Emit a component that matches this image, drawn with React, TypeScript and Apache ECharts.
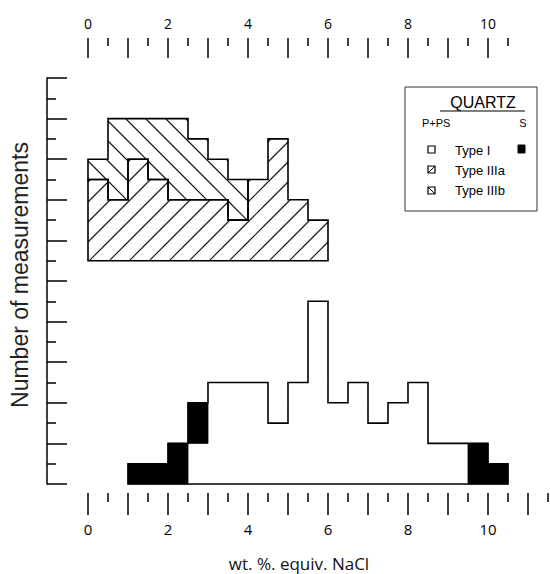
import React, { useEffect, useRef } from 'react';
import * as echarts from 'echarts';

const BIN_WIDTH = 0.5;

// Bottom histogram: Type I fluid inclusions
const typeIStarts = [1.0, 1.5, 2.0, 2.5, 3.0, 3.5, 4.0, 4.5, 5.0, 5.5, 6.0, 6.5, 7.0, 7.5, 8.0, 8.5, 9.0, 9.5, 10.0];
const typeIPPS = [0, 0, 0, 2, 5, 5, 5, 3, 5, 9, 4, 5, 3, 4, 5, 2, 2, 0, 0];
const typeIS = [1, 1, 2, 2, 0, 0, 0, 0, 0, 0, 0, 0, 0, 0, 0, 0, 0, 2, 1];

// Top histogram: Type IIIa and IIIb (drawn offset above the Type I histogram)
const TOP_BASE = 11;
const typeIIIStarts = [0, 0.5, 1.0, 1.5, 2.0, 2.5, 3.0, 3.5, 4.0, 4.5, 5.0, 5.5];
const typeIIIa = [4, 3, 5, 4, 3, 3, 3, 2, 4, 6, 3, 2];
const typeIIIb = [1, 4, 2, 3, 4, 3, 2, 2, 0, 0, 0, 0];

// Axis ticks
const bottomMajorTicks = [0, 1, 2, 3, 4, 5, 6, 7, 8, 9, 10, 11];
const bottomMinorTicks = [0.5, 1.5, 2.5, 3.5, 4.5, 5.5, 6.5, 7.5, 8.5, 9.5, 10.5, 11.5];
const topMajorTicks = [0, 1, 2, 3, 4, 5, 6, 7, 8, 9, 10];
const topMinorTicks = [0.5, 1.5, 2.5, 3.5, 4.5, 5.5, 6.5, 7.5, 8.5, 9.5, 10.5];
const xTickLabels = [0, 2, 4, 6, 8, 10];

const HATCH = 20;
const SLASH_PHASE = 10;
const BACK_PHASE = 13;

function fillSeries(name: string, starts: number[], bottoms: number[], tops: number[], mode: 'solid' | 'slash' | 'back') {
  const data = starts.map((s, i) => [s, s + BIN_WIDTH, bottoms[i], tops[i]]);
  return {
    type: 'custom',
    name,
    xAxisIndex: 0,
    yAxisIndex: 0,
    z: 2,
    silent: true,
    data,
    encode: { x: [0, 1], y: [2, 3] },
    renderItem: (params: any, api: any) => {
      const x0 = api.value(0), x1 = api.value(1), y0 = api.value(2), y1 = api.value(3);
      if (!(y1 > y0)) return null;
      const a = api.coord([x0, y1]);
      const b = api.coord([x1, y0]);
      const L = a[0], T = a[1], R = b[0], B = b[1];
      if (mode === 'solid') {
        return {
          type: 'rect',
          shape: { x: L, y: T, width: R - L, height: B - T },
          style: { fill: '#000', stroke: '#000', lineWidth: 0.8 },
        };
      }
      const children: any[] = [];
      const st = { stroke: '#111', lineWidth: 1.1 };
      if (mode === 'slash') {
        const start = Math.ceil((L + T - SLASH_PHASE) / HATCH) * HATCH + SLASH_PHASE;
        for (let c = start; c <= R + B; c += HATCH) {
          const xa = Math.max(L, c - B), xb = Math.min(R, c - T);
          if (xb - xa > 0.5) children.push({ type: 'line', shape: { x1: xa, y1: c - xa, x2: xb, y2: c - xb }, style: st });
        }
      } else {
        const start = Math.ceil((T - R - BACK_PHASE) / HATCH) * HATCH + BACK_PHASE;
        for (let c = start; c <= B - L; c += HATCH) {
          const xa = Math.max(L, T - c), xb = Math.min(R, B - c);
          if (xb - xa > 0.5) children.push({ type: 'line', shape: { x1: xa, y1: xa + c, x2: xb, y2: xb + c }, style: st });
        }
      }
      return { type: 'group', children };
    },
  };
}

function outlineSeries(starts: number[], bottoms: number[], tops: number[]) {
  const pts: number[][] = [];
  starts.forEach((s, i) => {
    pts.push([s, tops[i]]);
    pts.push([s + BIN_WIDTH, tops[i]]);
  });
  for (let i = starts.length - 1; i >= 0; i--) {
    pts.push([starts[i] + BIN_WIDTH, bottoms[i]]);
    pts.push([starts[i], bottoms[i]]);
  }
  return {
    type: 'custom',
    xAxisIndex: 0,
    yAxisIndex: 0,
    z: 5,
    silent: true,
    data: [[starts[0], bottoms[0]]],
    renderItem: (params: any, api: any) => ({
      type: 'polygon',
      shape: { points: pts.map((p) => api.coord(p)) },
      style: { fill: 'none', stroke: '#000', lineWidth: 1.6, lineJoin: 'miter' },
    }),
  };
}

function buildOption() {
  const zeros1 = typeIStarts.map(() => 0);
  const totalI = typeIPPS.map((v, i) => v + typeIS[i]);
  const sBottoms = typeIPPS.slice();
  const sTops = totalI;

  const aBottoms = typeIIIStarts.map(() => TOP_BASE);
  const aTops = typeIIIa.map((v) => TOP_BASE + v);
  const bBottoms = aTops;
  const bTops = typeIIIa.map((v, i) => TOP_BASE + v + typeIIIb[i]);

  const bIdx = typeIIIb.map((v, i) => (v > 0 ? i : -1)).filter((i) => i >= 0);

  const tickStyle = { color: '#000', width: 1.5 };
  const labelFont = 'Open Sans, Noto Sans, sans-serif';
  const legendFont = 'Liberation Sans, Arial, sans-serif';

  const baseX = {
    type: 'value',
    min: 0,
    max: 11.5,
    gridIndex: 0,
    axisLine: { show: false, onZero: false },
    splitLine: { show: false },
  };

  return {
    animation: false,
    backgroundColor: '#fff',
    grid: { left: 88, right: 2, top: 78, bottom: 90, containLabel: false },
    xAxis: [
      {
        ...baseX,
        position: 'bottom',
        offset: 9,
        axisTick: { show: true, inside: false, length: 22, customValues: bottomMajorTicks, lineStyle: tickStyle },
        axisLabel: { show: true, customValues: xTickLabels, margin: 28, color: '#000', fontSize: 15, fontFamily: labelFont },
      },
      {
        ...baseX,
        position: 'bottom',
        offset: 9,
        axisTick: { show: true, inside: false, length: 9, customValues: bottomMinorTicks, lineStyle: tickStyle },
        axisLabel: { show: false },
      },
      {
        ...baseX,
        position: 'top',
        offset: 40,
        axisTick: { show: true, inside: true, length: 20, customValues: topMajorTicks, lineStyle: tickStyle },
        axisLabel: { show: true, customValues: xTickLabels, margin: 8, color: '#000', fontSize: 14, fontFamily: labelFont },
      },
      {
        ...baseX,
        position: 'top',
        offset: 40,
        axisTick: { show: true, inside: true, length: 8, customValues: topMinorTicks, lineStyle: tickStyle },
        axisLabel: { show: false },
      },
    ],
    yAxis: {
      type: 'value',
      min: 0,
      max: 20,
      interval: 2,
      position: 'left',
      offset: 41,
      axisLine: { show: true, onZero: false, lineStyle: tickStyle },
      axisTick: { show: true, inside: true, length: 20, lineStyle: tickStyle },
      minorTick: { show: true, splitNumber: 2, length: 9, lineStyle: tickStyle },
      axisLabel: { show: false },
      splitLine: { show: false },
      minorSplitLine: { show: false },
    },
    series: [
      fillSeries('Type I S', typeIStarts, sBottoms, sTops, 'solid'),
      fillSeries('Type IIIa', typeIIIStarts, aBottoms, aTops, 'slash'),
      fillSeries('Type IIIb', typeIIIStarts, bBottoms, bTops, 'back'),
      outlineSeries(typeIStarts, zeros1, totalI),
      outlineSeries(typeIIIStarts, aBottoms, aTops),
      outlineSeries(
        bIdx.map((i) => typeIIIStarts[i]),
        bIdx.map((i) => bBottoms[i]),
        bIdx.map((i) => bTops[i])
      ),
    ],
    graphic: [
      {
        type: 'text',
        x: 20,
        y: 275,
        rotation: Math.PI / 2,
        style: {
          text: 'Number of measurements',
          fill: '#222',
          font: '23px Liberation Sans, Arial, sans-serif',
          align: 'center',
          verticalAlign: 'middle',
        },
      },
      {
        type: 'text',
        x: 299,
        y: 563,
        style: {
          text: 'wt. %. equiv. NaCl',
          fill: '#111',
          font: '17px Open Sans, sans-serif',
          align: 'center',
          verticalAlign: 'middle',
        },
      },
      // Legend box
      {
        type: 'rect',
        shape: { x: 405, y: 87, width: 132, height: 124 },
        style: { fill: '#fff', stroke: '#333', lineWidth: 1 },
        z: 10,
      },
      {
        type: 'text', x: 483, y: 102, z: 11,
        style: { text: 'QUARTZ', fill: '#000', font: '16px ' + legendFont, align: 'center', verticalAlign: 'middle' },
      },
      {
        type: 'line', z: 11,
        shape: { x1: 440, y1: 111, x2: 525, y2: 111 },
        style: { stroke: '#000', lineWidth: 1.2 },
      },
      {
        type: 'text', x: 422, y: 123, z: 11,
        style: { text: 'P+PS', fill: '#000', font: '11px ' + legendFont, align: 'left', verticalAlign: 'middle' },
      },
      {
        type: 'text', x: 523, y: 123, z: 11,
        style: { text: 'S', fill: '#000', font: '11px ' + legendFont, align: 'center', verticalAlign: 'middle' },
      },
      {
        type: 'rect', z: 11,
        shape: { x: 428, y: 146, width: 7, height: 7 },
        style: { fill: '#fff', stroke: '#000', lineWidth: 1.2 },
      },
      {
        type: 'text', x: 455, y: 150, z: 11,
        style: { text: 'Type I', fill: '#000', font: '13px ' + legendFont, align: 'left', verticalAlign: 'middle' },
      },
      {
        type: 'rect', z: 11,
        shape: { x: 518, y: 145, width: 7, height: 8 },
        style: { fill: '#000', stroke: '#000', lineWidth: 1 },
      },
      {
        type: 'rect', z: 11,
        shape: { x: 428, y: 166, width: 7, height: 7 },
        style: { fill: '#fff', stroke: '#000', lineWidth: 1.2 },
      },
      {
        type: 'line', z: 11,
        shape: { x1: 428, y1: 173, x2: 435, y2: 166 },
        style: { stroke: '#000', lineWidth: 1 },
      },
      {
        type: 'text', x: 455, y: 170, z: 11,
        style: { text: 'Type IIIa', fill: '#000', font: '13px ' + legendFont, align: 'left', verticalAlign: 'middle' },
      },
      {
        type: 'rect', z: 11,
        shape: { x: 428, y: 187, width: 7, height: 7 },
        style: { fill: '#fff', stroke: '#000', lineWidth: 1.2 },
      },
      {
        type: 'line', z: 11,
        shape: { x1: 428, y1: 187, x2: 435, y2: 194 },
        style: { stroke: '#000', lineWidth: 1 },
      },
      {
        type: 'text', x: 455, y: 190, z: 11,
        style: { text: 'Type IIIb', fill: '#000', font: '13px ' + legendFont, align: 'left', verticalAlign: 'middle' },
      },
    ],
  };
}

export default function App() {
  const ref = useRef<HTMLDivElement>(null);
  useEffect(() => {
    document.body.style.margin = '0';
    const chart = echarts.init(ref.current as HTMLDivElement, null, { renderer: 'svg' });
    chart.setOption(buildOption() as any);
    return () => chart.dispose();
  }, []);
  return <div ref={ref} style={{ position: 'fixed', left: 0, top: 0, width: 550, height: 574 }} />;
}
